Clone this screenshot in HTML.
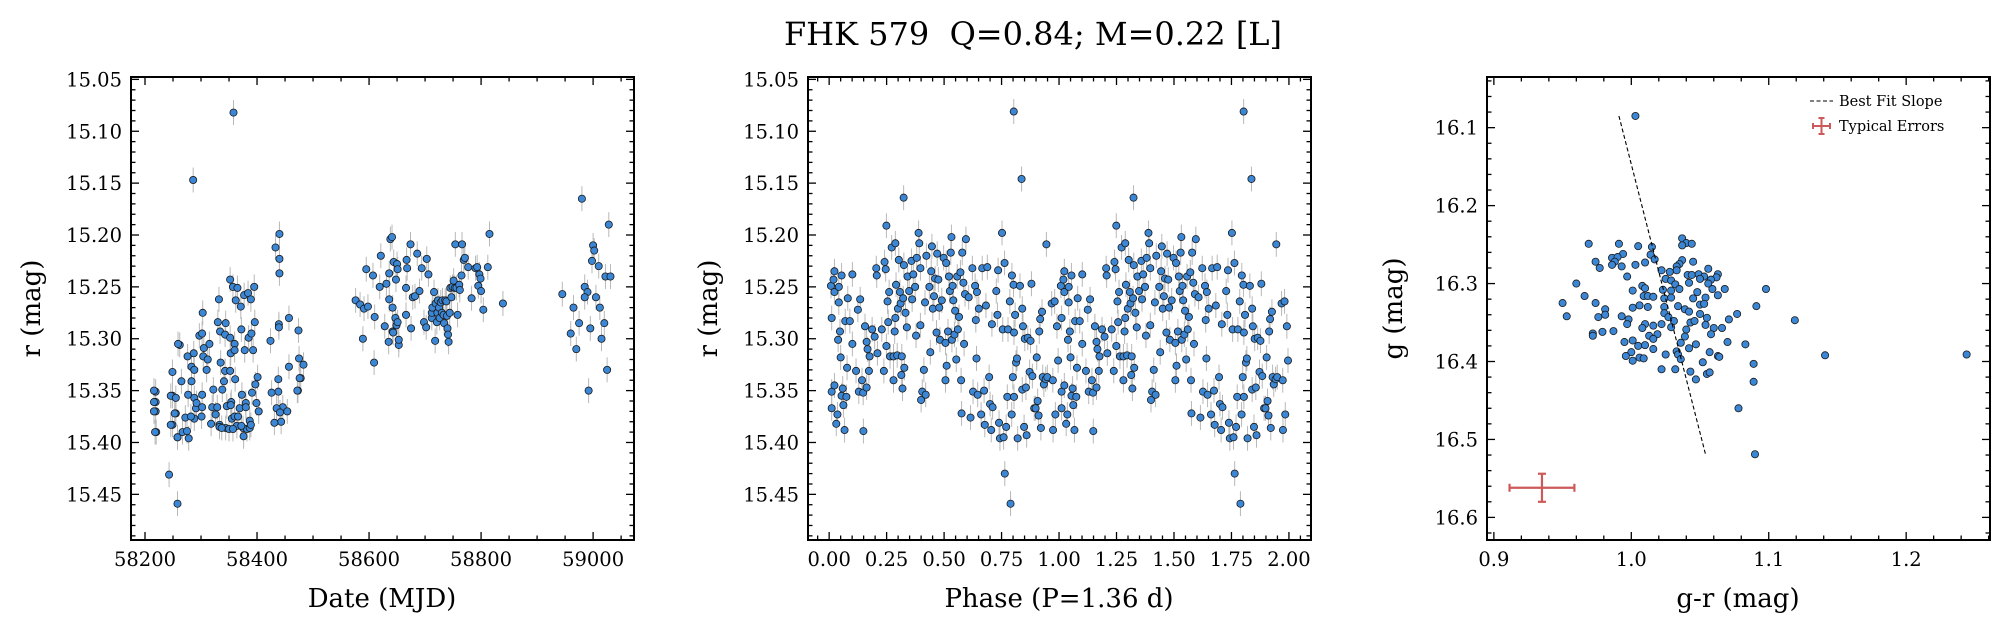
<!DOCTYPE html>
<html><head><meta charset="utf-8"><style>
html,body{margin:0;padding:0;background:#fff;}
svg{display:block;font-family:"DejaVu Serif","Liberation Serif",serif;}
</style></head><body>
<svg id="fig" width="2012" height="632" viewBox="0 0 2012 632" xmlns="http://www.w3.org/2000/svg">
<text x="1033" y="45" font-size="32" text-anchor="middle">FHK 579&#160; Q=0.84; M=0.22 [L]</text>
<g id="p1"></g>
<g id="p2"></g>
<g id="p3"></g>
</svg>
<script>
// ---- Panel 1 data: date (MJD) and r magnitude ----
const mjd = [58219,58219,58219,58220,58249,58249,58249,58255,58258,58262,58265,58259,58276,58277,58283,58283,58287,58288,58286,58288,58301,58302,58304,58305,58297,58302,58303,58310,58312,58315,58320,58322,58329,58330,58333,58334,58335,58338,58341,58332,58343,58343,58344,58344,58350,58352,58353,58354,58357,58352,58352,58358,58360,58360,58361,58362,58364,58365,58369,58371,58372,58373,58375,58377,58378,58380,58382,58384,58385,58387,58389,58390,58391,58393,58395,58396,58397,58401,
58216,58216,58216,58218,58243,58246,58246,58253,58255,58258,58258,58267,58272,58275,58278,58282,58288,58291,58292,58302,58318,58326,58333,58337,58346,58353,58355,58357,58360,58366,58372,58376,58380,58387,58389,58399,58403,58438,58443,58446,58454,58473,58478,
58424,58426,58431,58433,58435,58438,58439,58439,58440,58440,58440,58441,58457,58457,58472,58474,58475,58476,58483,
58576,58584,58591,58598,58589,58595,58607,58609,58610,58619,58621,58628,58631,58635,58636,58636,58638,58641,58642,58642,58643,58644,58647,58648,58649,58650,58651,58651,58653,58653,58666,58666,58667,58668,58674,58675,58678,58682,58686,58690,58694,58698,58702,58703,58706,58712,58712,58713,58716,58718,58719,58721,58722,58723,58725,58726,58728,58730,58731,58733,58734,58736,58738,58739,58740,58741,58742,58744,58745,58747,58749,58751,58753,58754,58756,58758,58761,58762,58765,58766,58769,58771,58777,58783,58790,58793,58795,58797,58799,58800,58804,58812,58815,58839,
58945,58960,58965,58970,58975,58980,58985,58990,58995,58998,59000,59002,59005,59010,59012,59015,59020,59022,59025,59028,59031,58985,58992];
const rmag = [15.351,15.361,15.370,15.390,15.332,15.355,15.383,15.372,15.395,15.306,15.341,15.305,15.317,15.354,15.327,15.341,15.314,15.377,15.147,15.330,15.375,15.354,15.317,15.309,15.297,15.295,15.275,15.330,15.320,15.305,15.366,15.349,15.366,15.284,15.383,15.293,15.323,15.349,15.341,15.262,15.331,15.296,15.285,15.386,15.387,15.331,15.314,15.361,15.250,15.299,15.243,15.082,15.305,15.311,15.339,15.263,15.384,15.251,15.367,15.269,15.291,15.354,15.386,15.258,15.311,15.362,15.387,15.256,15.299,15.379,15.262,15.295,15.352,15.311,15.250,15.284,15.344,15.337,
15.350,15.361,15.370,15.390,15.431,15.355,15.383,15.372,15.357,15.395,15.459,15.390,15.376,15.389,15.396,15.375,15.357,15.367,15.362,15.366,15.382,15.373,15.385,15.386,15.365,15.364,15.377,15.387,15.375,15.375,15.384,15.394,15.366,15.386,15.383,15.362,15.370,15.351,15.380,15.366,15.370,15.350,15.338,
15.302,15.352,15.381,15.212,15.367,15.339,15.286,15.289,15.199,15.223,15.237,15.371,15.280,15.327,15.350,15.292,15.319,15.338,15.325,
15.263,15.267,15.271,15.269,15.300,15.233,15.239,15.323,15.279,15.250,15.220,15.288,15.247,15.303,15.237,15.262,15.204,15.202,15.270,15.293,15.294,15.226,15.280,15.243,15.287,15.228,15.284,15.233,15.306,15.301,15.251,15.277,15.224,15.232,15.209,15.290,15.260,15.259,15.218,15.254,15.232,15.284,15.289,15.223,15.238,15.280,15.275,15.270,15.255,15.302,15.266,15.284,15.275,15.263,15.270,15.280,15.265,15.275,15.263,15.277,15.285,15.263,15.264,15.278,15.290,15.296,15.303,15.275,15.251,15.260,15.250,15.244,15.251,15.209,15.251,15.277,15.248,15.253,15.239,15.209,15.224,15.222,15.231,15.261,15.232,15.231,15.249,15.238,15.242,15.254,15.272,15.231,15.199,15.266,15.257,
15.295,15.270,15.310,15.285,15.165,15.250,15.255,15.290,15.225,15.210,15.215,15.260,15.230,15.270,15.300,15.285,15.240,15.330,15.190,15.240,15.260,15.350,15.280];

// ---- Panel 2 data: phase (0-1, plotted twice) and r magnitude ----
const phase = [0.008,0.011,0.011,0.011,0.019,0.023,0.023,0.023,0.031,0.036,0.042,0.042,0.039,0.047,0.050,0.054,0.054,0.059,0.062,0.067,0.070,0.075,0.078,0.081,0.090,0.101,0.101,0.117,0.125,0.129,0.135,0.143,0.148,0.149,0.156,0.163,0.163,0.167,0.173,0.176,0.187,0.198,0.205,0.207,0.210,0.229,0.238,0.241,0.246,0.249,0.254,0.249,0.257,0.261,0.265,0.272,0.280,0.280,0.285,0.288,0.288,0.291,0.296,0.299,0.303,0.308,0.311,0.314,0.316,0.319,0.322,0.324,0.325,0.327,0.332,0.338,0.341,0.348,0.358,0.361,0.366,0.374,0.378,0.381,0.389,0.392,0.397,0.397,0.400,0.405,0.412,0.417,0.420,0.423,0.436,0.440,0.444,0.447,0.451,0.456,0.461,0.467,0.470,0.475,0.479,0.482,0.490,0.498,0.506,0.506,0.509,0.511,0.517,0.521,0.525,0.529,0.532,0.534,0.537,0.540,0.545,0.548,0.553,0.557,0.560,0.565,0.571,0.574,0.576,0.579,0.584,0.587,0.591,0.595,0.607,0.615,0.623,0.626,0.635,0.638,0.641,0.643,0.646,0.651,0.661,0.666,0.674,0.677,0.682,0.688,0.696,0.700,0.705,0.708,0.711,0.727,0.732,0.735,0.739,0.743,0.752,0.755,0.759,0.763,0.764,0.770,0.775,0.778,0.786,0.789,0.794,0.795,0.799,0.802,0.803,0.804,0.804,0.809,0.813,0.817,0.820,0.830,0.837,0.840,0.840,0.843,0.848,0.851,0.856,0.859,0.864,0.872,0.876,0.880,0.884,0.892,0.898,0.903,0.907,0.911,0.914,0.918,0.921,0.926,0.929,0.934,0.945,0.942,0.949,0.968,0.973,0.974,0.981,0.984,0.991,0.996];
const pmag = [15.249,15.280,15.351,15.367,15.243,15.235,15.255,15.345,15.382,15.373,15.250,15.265,15.301,15.293,15.318,15.239,15.355,15.348,15.364,15.388,15.283,15.356,15.328,15.261,15.283,15.238,15.305,15.331,15.272,15.351,15.262,15.340,15.352,15.389,15.288,15.303,15.347,15.310,15.331,15.317,15.291,15.298,15.232,15.239,15.314,15.291,15.331,15.226,15.233,15.191,15.264,15.307,15.284,15.255,15.317,15.212,15.317,15.340,15.293,15.208,15.280,15.248,15.316,15.271,15.224,15.255,15.266,15.335,15.317,15.348,15.261,15.164,15.229,15.328,15.275,15.289,15.240,15.254,15.225,15.262,15.238,15.250,15.297,15.222,15.198,15.208,15.232,15.287,15.359,15.351,15.330,15.265,15.354,15.220,15.250,15.313,15.235,15.211,15.271,15.259,15.242,15.294,15.218,15.243,15.270,15.301,15.263,15.222,15.340,15.304,15.227,15.326,15.293,15.240,15.254,15.217,15.202,15.301,15.249,15.263,15.296,15.273,15.320,15.240,15.291,15.279,15.236,15.340,15.372,15.217,15.246,15.305,15.257,15.204,15.260,15.376,15.232,15.351,15.249,15.282,15.319,15.255,15.354,15.271,15.373,15.232,15.350,15.383,15.268,15.231,15.337,15.363,15.388,15.286,15.366,15.254,15.277,15.234,15.381,15.396,15.198,15.291,15.395,15.227,15.430,15.385,15.356,15.291,15.264,15.459,15.373,15.239,15.337,15.248,15.081,15.294,15.356,15.277,15.323,15.319,15.396,15.249,15.146,15.271,15.349,15.288,15.385,15.300,15.347,15.393,15.299,15.332,15.302,15.247,15.336,15.367,15.367,15.318,15.360,15.374,15.293,15.281,15.386,15.274,15.337,15.344,15.209,15.339,15.337,15.266,15.340,15.388,15.264,15.373,15.288,15.321];

// ---- Panel 3 data: g-r colour and g magnitude ----
const gr = [0.969,0.991,1.005,1.003,1.037,1.040,1.044,1.037,1.015,0.994,0.986,0.990,0.988,1.014,1.017,0.974,0.977,0.986,0.993,1.003,1.010,1.037,1.035,1.033,1.045,1.022,1.033,1.028,0.997,1.041,1.044,1.049,1.053,1.056,1.063,1.062,1.058,1.050,1.025,1.029,1.042,0.960,1.001,1.008,1.010,1.023,1.029,1.032,1.035,1.048,1.056,1.059,1.068,1.098,1.063,0.966,1.009,1.012,1.016,1.024,1.029,1.045,1.054,0.950,0.974,1.001,1.006,1.012,1.024,1.050,1.053,1.091,0.981,1.034,1.039,1.042,1.024,1.050,0.953,0.976,0.981,0.993,0.998,1.027,1.031,1.043,1.046,1.055,1.071,1.077,1.119,0.997,1.010,1.016,1.022,1.029,1.054,1.060,1.066,0.972,0.979,0.987,1.008,1.013,1.019,1.040,1.039,1.058,0.972,1.016,1.001,0.995,1.036,1.047,1.070,1.083,1.005,1.010,1.016,1.042,1.033,1.034,1.057,1.063,1.064,1.141,1.244,1.000,0.996,1.001,1.006,1.009,1.025,1.036,1.052,1.089,1.022,1.032,1.043,1.055,1.057,1.047,1.089,1.078,1.090];
const gmag = [16.249,16.249,16.252,16.085,16.242,16.248,16.249,16.251,16.253,16.262,16.267,16.266,16.272,16.263,16.269,16.272,16.280,16.276,16.278,16.276,16.273,16.270,16.275,16.278,16.272,16.283,16.283,16.285,16.291,16.289,16.289,16.288,16.291,16.281,16.288,16.292,16.295,16.294,16.294,16.296,16.299,16.300,16.309,16.303,16.306,16.308,16.309,16.301,16.307,16.311,16.300,16.307,16.307,16.307,16.315,16.316,16.316,16.316,16.317,16.319,16.318,16.319,16.318,16.325,16.325,16.331,16.328,16.330,16.330,16.327,16.326,16.329,16.333,16.329,16.333,16.336,16.338,16.339,16.342,16.343,16.340,16.342,16.346,16.343,16.348,16.350,16.348,16.344,16.346,16.339,16.347,16.352,16.352,16.354,16.352,16.356,16.353,16.357,16.357,16.364,16.362,16.361,16.357,16.367,16.365,16.359,16.368,16.365,16.367,16.371,16.373,16.375,16.376,16.378,16.375,16.378,16.380,16.379,16.384,16.383,16.387,16.391,16.388,16.393,16.394,16.392,16.391,16.388,16.393,16.399,16.395,16.396,16.391,16.397,16.401,16.403,16.410,16.410,16.413,16.416,16.414,16.423,16.426,16.460,16.519];
const fitX = [0.991, 1.054];
const fitY = [16.085, 16.519];
const typErr = {x:0.935, y:16.562, dx:0.0236, dy:0.018};

const xTicks1 = [58200,58400,58600,58800,59000];
const yTicks1 = [15.05,15.10,15.15,15.20,15.25,15.30,15.35,15.40,15.45];
const xTicks2 = [0.00,0.25,0.50,0.75,1.00,1.25,1.50,1.75,2.00];
const xTicks3 = [0.9,1.0,1.1,1.2];
const yTicks3 = [16.1,16.2,16.3,16.4,16.5,16.6];

const NS = 'http://www.w3.org/2000/svg';
function mk(parent, tag, attrs, text){
  const e = document.createElementNS(NS, tag);
  for (const k in attrs) e.setAttribute(k, attrs[k]);
  if (text !== undefined) e.textContent = text;
  parent.appendChild(e);
  return e;
}
const TOP=77, BOT=540;
const TICKFS=19.5, LABFS=26;
function makeAxes(g, x0, x1, xlim, ylim){
  const sx = v => x0 + (v - xlim[0]) / (xlim[1] - xlim[0]) * (x1 - x0);
  const sy = v => TOP + (v - ylim[0]) / (ylim[1] - ylim[0]) * (BOT - TOP);
  return {sx, sy, x0, x1};
}
function drawFrame(g, ax, xlim, ylim, xMaj, xMin, yMaj, yMin){
  const {sx, sy, x0, x1} = ax;
  const tg = mk(g,'g',{stroke:'#000','stroke-width':1.3});
  
  
  const eps=1e-9;
  for (let v=Math.ceil(xlim[0]/xMin-eps)*xMin; v<=xlim[1]+eps; v+=xMin){
    const isMaj = Math.abs(v/xMaj - Math.round(v/xMaj)) < 1e-6;
    const L = isMaj?8:4.5, x=sx(v);
    mk(tg,'line',{x1:x,y1:BOT,x2:x,y2:BOT-L});
    mk(tg,'line',{x1:x,y1:TOP,x2:x,y2:TOP+L});
  }
  for (let v=Math.ceil(ylim[0]/yMin-eps)*yMin; v<=ylim[1]+eps; v+=yMin){
    const isMaj = Math.abs(v/yMaj - Math.round(v/yMaj)) < 1e-6;
    const L = isMaj?8:4.5, y=sy(v);
    mk(tg,'line',{x1:x0,y1:y,x2:x0+L,y2:y});
    mk(tg,'line',{x1:x1,y1:y,x2:x1-L,y2:y});
  }
  const fr = mk(g,'rect',{x:x0,y:TOP,width:x1-x0,height:BOT-TOP,fill:'none',stroke:'#000','stroke-width':2});
  
  
}
function tickLabels(g, ax, xs, ys, xFmt, yFmt){
  xs.forEach(v=>{
    const t = mk(g,'text',{x:ax.sx(v),y:BOT+26,'font-size':TICKFS,'text-anchor':'middle'}, xFmt(v));
    
    
  });
  ys.forEach(v=>{
    const t = mk(g,'text',{x:ax.x0-9,y:ax.sy(v)+7,'font-size':TICKFS,'text-anchor':'end'}, yFmt(v));
    
    
  });
}
function labels(g, cx, xl, yx, yl){
  const a = mk(g,'text',{x:cx,y:607,'font-size':LABFS,'text-anchor':'middle'}, xl);
  
  
  const b = mk(g,'text',{x:yx,y:(TOP+BOT)/2,'font-size':LABFS,'text-anchor':'middle',transform:`rotate(-90 ${yx} ${(TOP+BOT)/2})`}, yl);
  
  
}
function points(g, ax, xs, ys, err){
  const eg = mk(g,'g',{stroke:'#b8b8b8','stroke-width':1});
  
  
  const pg = mk(g,'g',{fill:'#3b87d6',stroke:'#1a1a1a','stroke-width':0.8});
  
  
  xs.forEach((v,i)=>{
    const x=ax.sx(v), y=ax.sy(ys[i]);
    if (err) mk(eg,'line',{x1:x,y1:ax.sy(ys[i]-err),x2:x,y2:ax.sy(ys[i]+err)});
    const c = mk(pg,'circle',{cx:x,cy:y,r:3.6});
    
    
  });
}
const f2 = v=>v.toFixed(2), f0 = v=>String(v), f1=v=>v.toFixed(1);

// Panel 1
const p1 = document.getElementById('p1');
const yl1 = [15.0477, 15.494];
const ax1 = makeAxes(p1, 131, 634, [58175, 59073], yl1);
points(p1, ax1, mjd, rmag, 0.012);
drawFrame(p1, ax1, [58175,59073], yl1, 200, 50, 0.05, 0.01);
tickLabels(p1, ax1, xTicks1, yTicks1, f0, f2);
labels(p1, 382, 'Date (MJD)', 40, 'r (mag)');

// Panel 2
const p2 = document.getElementById('p2');
const xl2 = [-0.092, 2.096];
const ax2 = makeAxes(p2, 808, 1311, xl2, yl1);
points(p2, ax2, phase.concat(phase.map(p=>p+1)), pmag.concat(pmag), 0.012);
drawFrame(p2, ax2, xl2, yl1, 0.25, 0.05, 0.05, 0.01);
tickLabels(p2, ax2, xTicks2, yTicks1, f2, f2);
labels(p2, 1059, 'Phase (P=1.36 d)', 717, 'r (mag)');

// Panel 3
const p3 = document.getElementById('p3');
const xl3 = [0.895, 1.261], yl3 = [16.035, 16.629];
const ax3 = makeAxes(p3, 1487, 1990, xl3, yl3);
points(p3, ax3, gr, gmag, 0);
const fit = mk(p3,'line',{x1:ax3.sx(fitX[0]),y1:ax3.sy(fitY[0]),x2:ax3.sx(fitX[1]),y2:ax3.sy(fitY[1]),stroke:'#000','stroke-width':1.1,'stroke-dasharray':'4,2.5'});


const eb = mk(p3,'g',{stroke:'#cd5a5a','stroke-width':2.2});


{
  const cx=ax3.sx(typErr.x), cy=ax3.sy(typErr.y);
  const xa=ax3.sx(typErr.x-typErr.dx), xb=ax3.sx(typErr.x+typErr.dx);
  const ya=ax3.sy(typErr.y-typErr.dy), yb=ax3.sy(typErr.y+typErr.dy);
  mk(eb,'line',{x1:xa,y1:cy,x2:xb,y2:cy});
  mk(eb,'line',{x1:cx,y1:ya,x2:cx,y2:yb});
  mk(eb,'line',{x1:xa,y1:cy-4,x2:xa,y2:cy+4});
  mk(eb,'line',{x1:xb,y1:cy-4,x2:xb,y2:cy+4});
  mk(eb,'line',{x1:cx-4,y1:ya,x2:cx+4,y2:ya});
  mk(eb,'line',{x1:cx-4,y1:yb,x2:cx+4,y2:yb});
}
drawFrame(p3, ax3, xl3, yl3, 0.1, 0.02, 0.1, 0.02);
tickLabels(p3, ax3, xTicks3, yTicks3, f1, f1);
labels(p3, 1738, 'g-r (mag)', 1402, 'g (mag)');

// Legend
const lg = mk(p3,'g',{});


const le1 = mk(lg,'g',{});


mk(le1,'line',{x1:1810,y1:101,x2:1833,y2:101,stroke:'#000','stroke-width':1.1,'stroke-dasharray':'4,2.5'});
mk(le1,'text',{x:1839,y:106,'font-size':14.5}, 'Best Fit Slope');
const le2 = mk(lg,'g',{stroke:'#cd5a5a','stroke-width':2});


mk(le2,'line',{x1:1813,y1:126,x2:1830,y2:126});
mk(le2,'line',{x1:1821.5,y1:118,x2:1821.5,y2:134});
mk(le2,'line',{x1:1813,y1:123,x2:1813,y2:129});
mk(le2,'line',{x1:1830,y1:123,x2:1830,y2:129});
mk(le2,'line',{x1:1818.5,y1:118,x2:1824.5,y2:118});
mk(le2,'line',{x1:1818.5,y1:134,x2:1824.5,y2:134});
mk(lg,'text',{x:1839,y:131,'font-size':14.5}, 'Typical Errors');
</script>
</body></html>
